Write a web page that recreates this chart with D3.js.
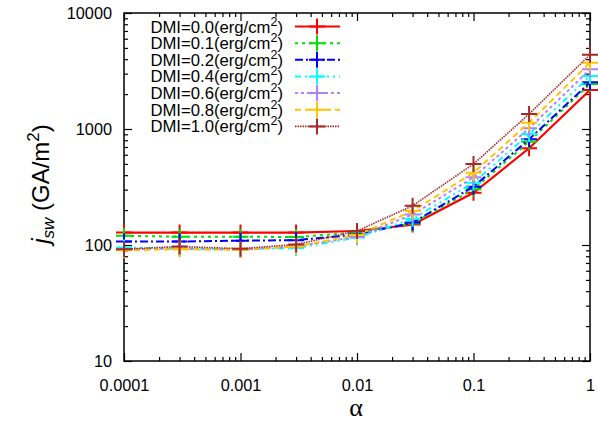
<!DOCTYPE html>
<html>
<head>
<meta charset="utf-8">
<script src="https://cdn.jsdelivr.net/npm/d3@7"></script>
<style>
  html, body { margin: 0; padding: 0; background: #fff; }
  svg { display: block; }
  text { font-family: "Liberation Sans", Arial, Helvetica, sans-serif; fill: #000; }
</style>
</head>
<body>
<script>
// Damping constant alpha on the x axis
const alphas = [0.0001, 0.0003, 0.001, 0.003, 0.01, 0.03, 0.1, 0.3, 1];

// Switching current density j_sw (GA/m^2) for each DMI strength
const dmiLabels = ["0.0", "0.1", "0.2", "0.4", "0.6", "0.8", "1.0"];
const jDmi00 = [128, 128, 128, 128, 132, 150, 282, 682, 2168];
const jDmi01 = [120, 118, 118, 117, 128, 153, 302, 778, 2445];
const jDmi02 = [107, 107, 109, 110, 123, 156, 318, 815, 2527];
const jDmi04 = [95, 93, 92, 94, 116, 168, 344, 905, 2864];
const jDmi06 = [92, 93, 91, 97, 118, 183, 383, 1014, 3266];
const jDmi08 = [90, 92, 91, 97, 122, 196, 420, 1133, 3733];
const jDmi10 = [92, 97, 93, 101, 132, 218, 499, 1347, 4371];

// Axis tick labels
const xTickValues = [0.0001, 0.001, 0.01, 0.1, 1];
const xTickLabels = ["0.0001", "0.001", "0.01", "0.1", "1"];
const yTickValues = [10, 100, 1000, 10000];
const yTickLabels = ["10", "100", "1000", "10000"];

const seriesValues = [jDmi00, jDmi01, jDmi02, jDmi04, jDmi06, jDmi08, jDmi10];
const seriesStyle = [
  { color: "#ff0000", width: 2.2, dash: null },
  { color: "#00e000", width: 2, dash: "3,4" },
  { color: "#0000ff", width: 2, dash: "8,3,2,3" },
  { color: "#00ffff", width: 2, dash: "6,4,2,4,2,4" },
  { color: "#b080ff", width: 2, dash: "3,3" },
  { color: "#ffc400", width: 2, dash: "6,4" },
  { color: "#a52a2a", width: 1.6, dash: "1.5,1" }
];

const W = 598, H = 421;
const m = { left: 124, right: 8, top: 13, bottom: 60 };
const pw = W - m.left - m.right, ph = H - m.top - m.bottom;

const svg = d3.select("body").append("svg").attr("width", W).attr("height", H);

const x = d3.scaleLog().domain([0.0001, 1]).range([m.left, m.left + pw]);
const y = d3.scaleLog().domain([10, 10000]).range([m.top + ph, m.top]);

// minor tick values (2..9 in each decade)
function minorTicks(lo, hi) {
  const out = [];
  for (let d = lo; d < hi; d *= 10) for (let k = 2; k <= 9; k++) out.push(d * k);
  return out;
}
const xMinor = minorTicks(0.0001, 1);
const yMinor = minorTicks(10, 10000);

const majorLen = 8, minorLen = 4;

// Bottom axis with labels, ticks pointing inward
const gx = svg.append("g").attr("transform", `translate(0,${m.top + ph})`)
  .call(d3.axisBottom(x).tickValues(xTickValues).tickSize(-majorLen).tickPadding(18)
    .tickFormat((d, i) => xTickLabels[i]));
gx.append("g").call(d3.axisBottom(x).tickValues(xMinor).tickSize(-minorLen).tickFormat(""));
// Top axis mirror
const gxt = svg.append("g").attr("transform", `translate(0,${m.top})`)
  .call(d3.axisTop(x).tickValues(xTickValues).tickSize(-majorLen).tickFormat(""));
gxt.append("g").call(d3.axisTop(x).tickValues(xMinor).tickSize(-minorLen).tickFormat(""));

// Left axis with labels
const gy = svg.append("g").attr("transform", `translate(${m.left},0)`)
  .call(d3.axisLeft(y).tickValues(yTickValues).tickSize(-majorLen).tickPadding(12)
    .tickFormat((d, i) => yTickLabels[i]));
gy.append("g").call(d3.axisLeft(y).tickValues(yMinor).tickSize(-minorLen).tickFormat(""));
// Right axis mirror
const gyr = svg.append("g").attr("transform", `translate(${m.left + pw},0)`)
  .call(d3.axisRight(y).tickValues(yTickValues).tickSize(-majorLen).tickFormat(""));
gyr.append("g").call(d3.axisRight(y).tickValues(yMinor).tickSize(-minorLen).tickFormat(""));

svg.selectAll(".domain").remove();
svg.selectAll(".tick line").attr("stroke", "#000").attr("stroke-width", 1.2);
svg.selectAll(".tick text").attr("font-size", 16.3).attr("font-family", "Liberation Sans, Arial, sans-serif");

// Plot border
svg.append("rect").attr("x", m.left).attr("y", m.top).attr("width", pw).attr("height", ph)
  .attr("fill", "none").attr("stroke", "#000").attr("stroke-width", 1.5);

// Series lines and "+" markers
const line = d3.line().x((d, i) => x(alphas[i])).y(d => y(d));
const cross = 8;
seriesValues.forEach((vals, s) => {
  const st = seriesStyle[s];
  const g = svg.append("g");
  g.append("path").datum(vals).attr("d", line).attr("fill", "none")
    .attr("stroke", st.color).attr("stroke-width", st.width)
    .attr("stroke-dasharray", st.dash);
  g.selectAll("path.pt").data(vals).enter().append("path").attr("class", "pt")
    .attr("d", (d, i) => {
      const cx = x(alphas[i]), cy = y(d);
      return `M${cx - cross},${cy}H${cx + cross}M${cx},${cy - cross}V${cy + cross}`;
    })
    .attr("stroke", st.color).attr("stroke-width", 2).attr("fill", "none");
});

// Legend
const legTextRight = 283, legY0 = 26.5, legDy = 16.65;
const legLineX0 = 295, legLineX1 = 340, legCross = 317;
dmiLabels.forEach((lab, s) => {
  const st = seriesStyle[s];
  const cy = legY0 + s * legDy;
  const t = svg.append("text").attr("x", legTextRight).attr("y", cy + 6)
    .attr("text-anchor", "end").attr("font-size", 16.7);
  t.append("tspan").text(`DMI=${lab}(erg/cm`);
  t.append("tspan").attr("dy", -7).attr("font-size", 12.5).text("2");
  t.append("tspan").attr("dy", 7).text(")");
  svg.append("line").attr("x1", legLineX0).attr("x2", legLineX1).attr("y1", cy).attr("y2", cy)
    .attr("stroke", st.color).attr("stroke-width", st.width).attr("stroke-dasharray", st.dash);
  svg.append("path")
    .attr("d", `M${legCross - cross},${cy}H${legCross + cross}M${legCross},${cy - cross}V${cy + cross}`)
    .attr("stroke", st.color).attr("stroke-width", 2);
});

// Axis titles
svg.append("text").attr("x", m.left + pw / 2 - 1).attr("y", 416)
  .attr("text-anchor", "middle").attr("font-size", 26)
  .style("font-family", "'Liberation Serif', 'DejaVu Serif', serif").text("α");

const yt = svg.append("text").attr("transform", `translate(49,${184}) rotate(-90)`)
  .attr("text-anchor", "middle").attr("font-size", 24);
yt.append("tspan").attr("font-style", "italic").text("j");
yt.append("tspan").attr("font-style", "italic").attr("font-size", 17).attr("dy", 5).text("sw");
yt.append("tspan").attr("dy", -5).text(" (GA/m");
yt.append("tspan").attr("font-size", 17).attr("dy", -10).text("2");
yt.append("tspan").attr("dy", 10).text(")");
</script>
</body>
</html>
